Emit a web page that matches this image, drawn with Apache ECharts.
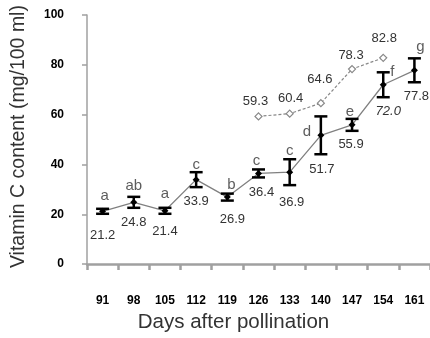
<!DOCTYPE html>
<html>
<head>
<meta charset="utf-8">
<script src="https://cdn.jsdelivr.net/npm/echarts@6/dist/echarts.min.js"></script>
<style>html,body{margin:0;padding:0;background:#fff}#c{width:430px;height:338px}</style>
</head>
<body>
<div id="c"></div>
<script>
// ---- data ----
var days = ['91','98','105','112','119','126','133','140','147','154','161'];
var vitC = [21.2, 24.8, 21.4, 33.9, 26.9, 36.4, 36.9, 51.7, 55.9, 72.0, 77.8];
var vitCErr = [1.0, 2.2, 1.2, 3.0, 1.4, 1.6, 5.2, 7.6, 2.4, 5.0, 4.8];
var letters = ['a', 'ab', 'a', 'c', 'b', 'c', 'c', 'd', 'e', 'f', 'g'];
var vitC2 = [null, null, null, null, null, 59.3, 60.4, 64.6, 78.3, 82.8, null];
var yTicks = [0, 20, 40, 60, 80, 100];

// ---- layout (label offsets, px) ----
var valOff = [[0,24],[0,20],[0,21],[0,22],[5,22],[3,19],[2,30],[1,34],[-1,20],[5,27],[2,26]];
var letOff = [[2,-15],[0,-16],[0,-17],[0,-15],[4,-12],[-2,-13],[0,-21],[-14,-3],[-2,-13],[9,-13],[6,-23]];
var v2Off = [null,null,null,null,null,[-3,-15],[1,-15],[-1,-24],[-1,-14],[1,-19],null];

var txt = {fontFamily: 'Liberation Sans, Arial, sans-serif', color: '#333'};

var chart = echarts.init(document.getElementById('c'), null, {renderer: 'canvas'});
chart.setOption({
  animation: false,
  grid: {left: 87, top: 15, width: 345, height: 251},
  xAxis: {
    type: 'category', data: days, boundaryGap: true,
    name: 'Days after pollination', nameLocation: 'middle', nameGap: 46,
    nameTextStyle: {fontFamily: txt.fontFamily, color: '#333', fontSize: 20.5, padding: [0, 50, 0, 0]},
    axisLine: {lineStyle: {color: '#a0a0a0', width: 2.5}},
    axisTick: {show: true, length: 6, lineStyle: {color: '#a0a0a0', width: 2.5}},
    axisLabel: {margin: 31, color: '#000', fontWeight: 'bold', fontSize: 12, fontFamily: txt.fontFamily},
    splitLine: {show: false}
  },
  yAxis: {
    type: 'value', min: 0, max: 100, interval: 20,
    name: 'Vitamin C content (mg/100 ml)', nameLocation: 'middle', nameGap: 58,
    nameTextStyle: {fontFamily: txt.fontFamily, color: '#333', fontSize: 19.5, padding: [0, 0, 0, 6]},
    axisLine: {show: true, lineStyle: {color: '#a0a0a0', width: 1.5}},
    axisTick: {show: true, length: 5, lineStyle: {color: '#a0a0a0', width: 1.5}},
    axisLabel: {margin: 23, color: '#000', fontWeight: 'bold', fontSize: 12, fontFamily: txt.fontFamily,
      formatter: function (v) { return yTicks.indexOf(v) >= 0 ? String(v) : ''; }},
    splitLine: {show: false}
  },
  series: [
    {
      type: 'line', data: vitC2.map(function (v, i) {
        return v == null ? null : {value: v, label: {offset: v2Off[i]}};
      }),
      symbol: 'diamond', symbolSize: 7, showSymbol: true,
      itemStyle: {color: '#fff', borderColor: '#888', borderWidth: 1.2},
      lineStyle: {color: '#888', width: 1.2, type: [3, 2]},
      label: {show: true, position: 'inside', fontSize: 13, fontFamily: txt.fontFamily, color: '#333',
        formatter: function (p) { return p.value.toFixed(1); }},
      z: 2
    },
    {
      type: 'line', data: vitC.map(function (v, i) {
        return {value: v, label: {offset: valOff[i], fontStyle: i === 9 ? 'italic' : 'normal'}};
      }),
      symbol: 'diamond', symbolSize: 7, showSymbol: true,
      itemStyle: {color: '#000', borderColor: '#000', borderWidth: 0},
      lineStyle: {color: '#808080', width: 1.3},
      label: {show: true, position: 'inside', fontSize: 13, fontFamily: txt.fontFamily, color: '#333',
        formatter: function (p) { return p.value.toFixed(1); }},
      z: 4
    },
    {
      type: 'custom',
      data: vitC.map(function (v, i) { return [i, v - vitCErr[i], v + vitCErr[i]]; }),
      renderItem: function (params, api) {
        var lo = api.coord([api.value(0), api.value(1)]);
        var hi = api.coord([api.value(0), api.value(2)]);
        var hw = 6.5;
        var st = {stroke: '#000', lineWidth: 2.5};
        return {type: 'group', children: [
          {type: 'line', shape: {x1: lo[0], y1: lo[1], x2: hi[0], y2: hi[1]}, style: st},
          {type: 'line', shape: {x1: lo[0] - hw, y1: lo[1], x2: lo[0] + hw, y2: lo[1]}, style: st},
          {type: 'line', shape: {x1: hi[0] - hw, y1: hi[1], x2: hi[0] + hw, y2: hi[1]}, style: st}
        ]};
      },
      z: 5
    },
    {
      type: 'scatter', symbolSize: 0,
      data: vitC.map(function (v, i) { return {value: v, label: {offset: letOff[i]}}; }),
      label: {show: true, position: 'inside', fontSize: 15, fontFamily: txt.fontFamily, color: '#333',
        formatter: function (p) { return letters[p.dataIndex]; }},
      z: 6
    }
  ]
});
</script>
</body>
</html>
